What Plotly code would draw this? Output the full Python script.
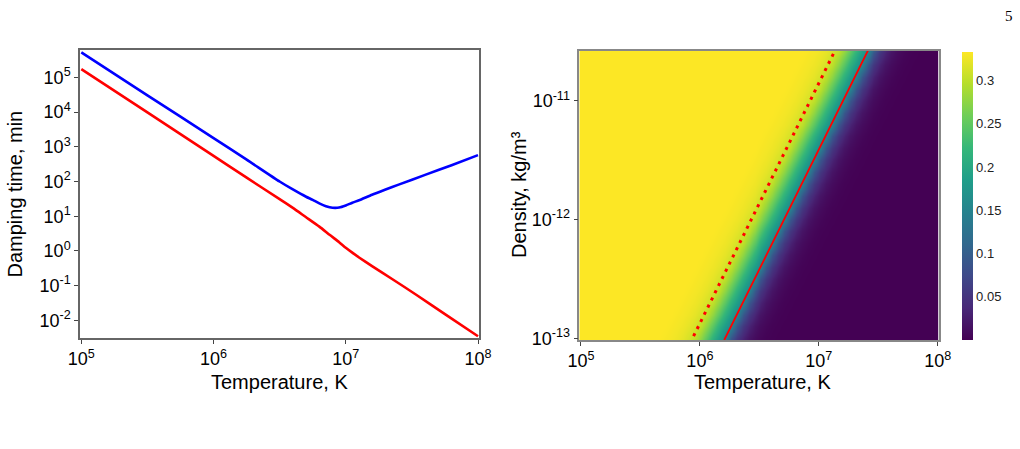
import numpy as np
import plotly.graph_objects as go

# ---------------- data ----------------
# Left panel: damping time (min) vs temperature (K)
blue_T = [1.0e5, 3.16e5, 1.0e6, 1.78e6, 3.16e6, 3.98e6, 5.01e6, 5.62e6, 6.31e6, 7.08e6,
          7.94e6, 8.91e6, 1.0e7, 1.12e7, 1.26e7, 1.58e7, 2.0e7, 2.51e7, 3.98e7, 6.31e7, 1.0e8]
blue_tau = [5.25e5, 3.05e4, 1.78e3, 427, 100, 58.9, 36.3, 29.5, 23.4, 19.5,
            17.6, 17.8, 20.4, 24.5, 28.8, 41.7, 58.9, 81.3, 155, 295, 575]

red_T = [1.0e5, 3.16e5, 1.0e6, 1.78e6, 3.16e6, 3.98e6, 5.01e6, 6.31e6, 7.59e6, 8.91e6,
         1.0e7, 1.12e7, 1.26e7, 1.58e7, 2.24e7, 3.43e7, 5.62e7, 1.0e8]
red_tau = [1.74e5, 9.77e3, 550, 129, 30.9, 17.4, 9.33, 5.01, 2.86, 1.78,
           1.23, 0.891, 0.646, 0.363, 0.155, 0.0537, 0.0151, 0.00347]

# Right panel: colour profile across the band, vs offset (decades in T) from the solid red line
profile_offset = [-0.60, -0.55, -0.50, -0.45, -0.40, -0.35, -0.30, -0.25, -0.20, -0.15, -0.10, -0.05,
                  0.00, 0.05, 0.10, 0.15, 0.20, 0.25, 0.30, 0.35, 0.40, 0.45, 0.50, 0.55, 0.60]
profile_value = [0.333, 0.333, 0.331, 0.329, 0.326, 0.321, 0.313, 0.300, 0.275, 0.245, 0.212, 0.182,
                 0.150, 0.090, 0.055, 0.033, 0.018, 0.010, 0.005, 0.002, 0.001, 0.0, 0.0, 0.0, 0.0]

# red lines on the right panel (end points)
solid_T = [1.603e6, 2.64e7]
solid_rho = [9.68e-14, 2.76e-11]
dotted_T = [8.26e5, 1.349e7]
dotted_rho = [9.08e-14, 2.58e-11]

x_ticks = [1e5, 1e6, 1e7, 1e8]
x_ticktext = ["10<sup>5</sup>", "10<sup>6</sup>", "10<sup>7</sup>", "10<sup>8</sup>"]
y1_ticks = [1e-2, 1e-1, 1e0, 1e1, 1e2, 1e3, 1e4, 1e5]
y1_ticktext = ["10<sup>-2</sup>", "10<sup>-1</sup>", "10<sup>0</sup>", "10<sup>1</sup>",
               "10<sup>2</sup>", "10<sup>3</sup>", "10<sup>4</sup>", "10<sup>5</sup>"]
y2_ticks = [1e-13, 1e-12, 1e-11]
y2_ticktext = ["10<sup>-13</sup>", "10<sup>-12</sup>", "10<sup>-11</sup>"]
cb_ticks = [0.05, 0.1, 0.15, 0.2, 0.25, 0.3]
cb_ticktext = ["0.05", "0.1", "0.15", "0.2", "0.25", "0.3"]

# ---------------- build heatmap table from the profile ----------------
step = profile_offset[1] - profile_offset[0]          # 0.05 decade in T
row_lrho = np.round(np.arange(-13.1, -10.45, 2 * step), 4)   # rows shift by one column each
lTs0 = np.log10(solid_T[0]) + 0.5 * (row_lrho[0] - np.log10(solid_rho[0]))
J0 = 25
ncol = 64
col_lT = lTs0 + step * (np.arange(ncol) - J0)
k0 = profile_offset.index(0.00)
z = []
for i in range(len(row_lrho)):
    row = []
    for j in range(ncol):
        k = j - J0 - i + k0
        k = min(max(k, 0), len(profile_value) - 1)
        row.append(profile_value[k])
    z.append(row)

FONT = "Liberation Sans, Arial, sans-serif"

fig = go.Figure()

fig.add_trace(go.Scatter(x=blue_T, y=blue_tau, mode="lines",
                         line=dict(color="#0000ff", width=2.6, shape="spline", smoothing=0.5),
                         xaxis="x", yaxis="y", showlegend=False))
fig.add_trace(go.Scatter(x=red_T, y=red_tau, mode="lines",
                         line=dict(color="#ff0000", width=2.6, shape="spline", smoothing=0.5),
                         xaxis="x", yaxis="y", showlegend=False))

fig.add_trace(go.Heatmap(x=10 ** col_lT, y=10 ** row_lrho, z=z, zmin=0, zmax=0.3333,
                         colorscale="Viridis", zsmooth="best", xaxis="x2", yaxis="y2",
                         colorbar=dict(thickness=11, thicknessmode="pixels", len=288.3 / 449, lenmode="fraction",
                                       x=961.7 / 1020, xanchor="left", xpad=0, y=0.5638, yanchor="middle", ypad=0,
                                       tickvals=cb_ticks, ticktext=cb_ticktext, ticks="",
                                       tickfont=dict(family=FONT, size=13, color="#222"),
                                       outlinewidth=0)))
fig.add_trace(go.Scatter(x=solid_T, y=solid_rho, mode="lines", line=dict(color="#ff0000", width=1.8),
                         xaxis="x2", yaxis="y2", showlegend=False))
fig.add_trace(go.Scatter(x=dotted_T, y=dotted_rho, mode="lines",
                         line=dict(color="#ff0000", width=3, dash="3px,5px"),
                         xaxis="x2", yaxis="y2", showlegend=False))

axis_common = dict(showgrid=False, zeroline=False, ticks="outside", ticklen=4, tickwidth=1,
                   tickcolor="#444", showline=True, mirror=True, automargin=False,
                   tickfont=dict(family=FONT, size=18, color="black"))

fig.update_layout(
    width=1020, height=449, margin=dict(l=0, r=0, t=0, b=0, autoexpand=False),
    paper_bgcolor="white", plot_bgcolor="white", showlegend=False,
    xaxis=dict(type="log", domain=[80 / 1020, 479 / 1020], range=[4.99, 8.0075], anchor="y",
               tickvals=x_ticks, ticktext=x_ticktext, linecolor="#666", linewidth=1.5, **axis_common),
    yaxis=dict(type="log", domain=[(449 - 338) / 449, (449 - 50) / 449], range=[-2.51, 5.79], anchor="x",
               tickvals=y1_ticks, ticktext=y1_ticktext, linecolor="#666", linewidth=1.5, **axis_common),
    xaxis2=dict(type="log", domain=[579.3 / 1020, 938.7 / 1020], range=[4.986, 8.008], anchor="y2",
                tickvals=x_ticks, ticktext=x_ticktext, linecolor="#888", linewidth=1.5, **axis_common),
    yaxis2=dict(type="log", domain=[(449 - 340) / 449, (449 - 51) / 449], range=[-13.014, -10.58], anchor="x2",
                tickvals=y2_ticks, ticktext=y2_ticktext, linecolor="#888", linewidth=1.5, **axis_common),
)

ann = [
    dict(text="Temperature, K", x=279.5 / 1020, y=(449 - 382) / 449, xref="paper", yref="paper",
         showarrow=False, xanchor="center", yanchor="middle", font=dict(family=FONT, size=20, color="black")),
    dict(text="Damping time, min", x=15 / 1020, y=(449 - 194.5) / 449, xref="paper", yref="paper",
         showarrow=False, xanchor="center", yanchor="middle", textangle=-90,
         font=dict(family=FONT, size=20, color="black")),
    dict(text="Temperature, K", x=762 / 1020, y=(449 - 382) / 449, xref="paper", yref="paper",
         showarrow=False, xanchor="center", yanchor="middle", font=dict(family=FONT, size=20, color="black")),
    dict(text="Density, kg/m³", x=519 / 1020, y=(449 - 195) / 449, xref="paper", yref="paper",
         showarrow=False, xanchor="center", yanchor="middle", textangle=-90,
         font=dict(family=FONT, size=20, color="black")),
    dict(text="5", x=1009 / 1020, y=(449 - 16) / 449, xref="paper", yref="paper",
         showarrow=False, xanchor="center", yanchor="middle",
         font=dict(family="Liberation Serif, Times New Roman, serif", size=15, color="black")),
]
fig.update_layout(annotations=ann)

fig.write_html("out.html")
